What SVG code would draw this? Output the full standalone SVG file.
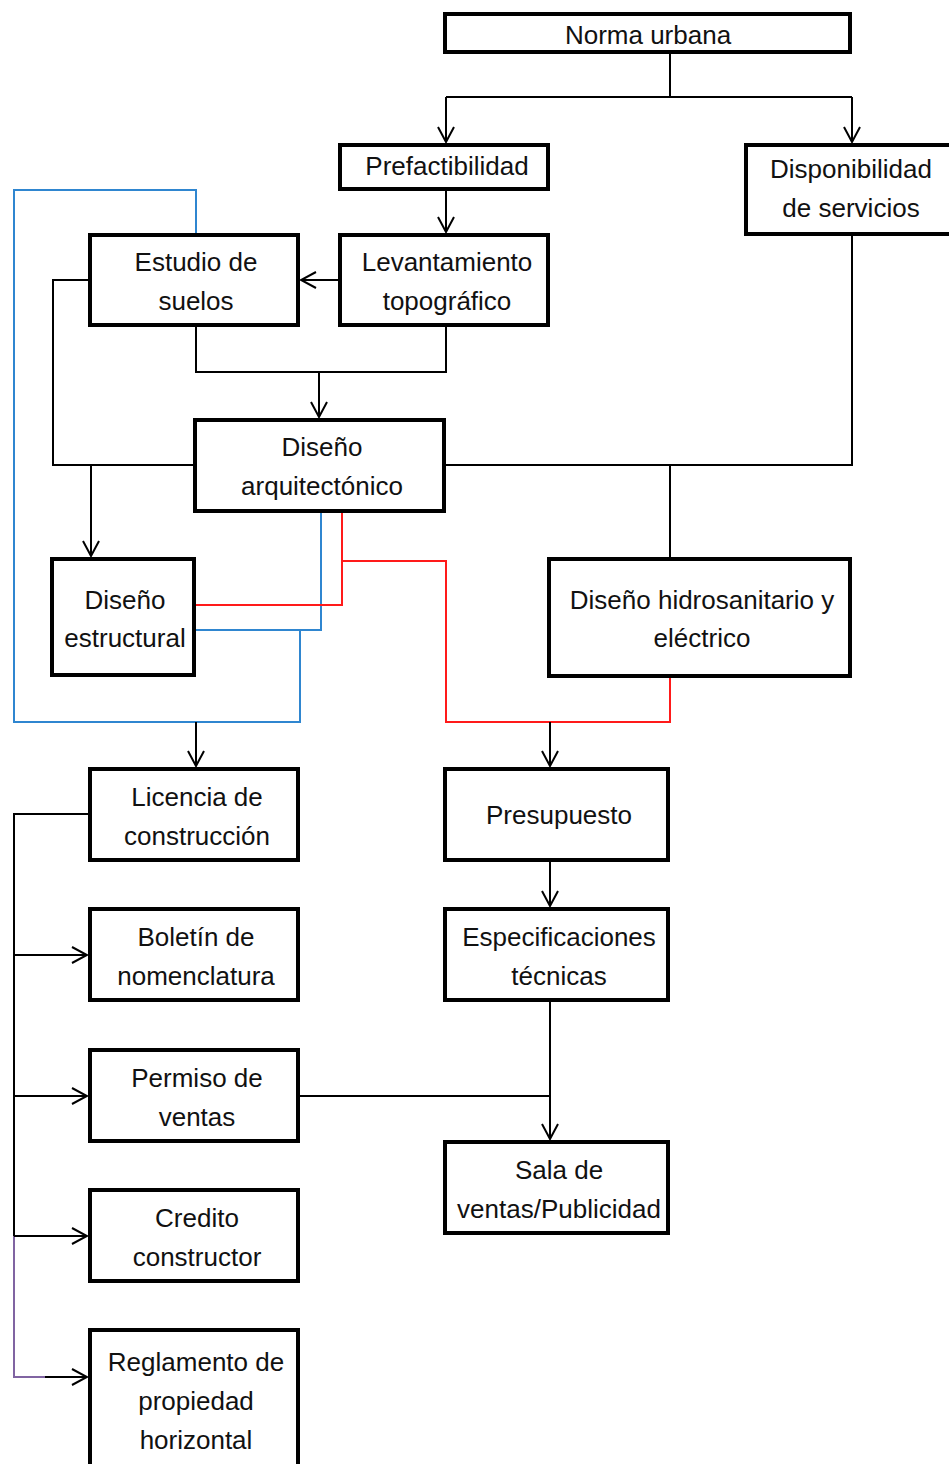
<svg xmlns="http://www.w3.org/2000/svg" width="949" height="1464" viewBox="0 0 949 1464">
<style>
.box{fill:#fff;stroke:#000;stroke-width:4}
.t{font-family:"Liberation Sans",Arial,sans-serif;font-size:26px;fill:#111;text-anchor:middle}
.c{fill:none;stroke:#000;stroke-width:2}
.blue{fill:none;stroke:#2f86d0;stroke-width:2}
.red{fill:none;stroke:#ff1a1a;stroke-width:2}
.purple{fill:none;stroke:#8064a2;stroke-width:2}
</style>
<defs>
<marker id="ah" markerUnits="userSpaceOnUse" markerWidth="18" markerHeight="18" viewBox="0 0 18 18" refX="16" refY="9" orient="auto">
<path d="M1,1 L16,9 L1,17" fill="none" stroke="#000" stroke-width="2"/>
</marker>
</defs>
<rect width="949" height="1464" fill="#fff"/>
<g id="connectors">
<path class="c" d="M670,53 V97"/>
<path class="c" d="M446,97 H852"/>
<path class="c" d="M446,97 V142" marker-end="url(#ah)"/>
<path class="c" d="M852,97 V142" marker-end="url(#ah)"/>
<path class="c" d="M446,190 V232" marker-end="url(#ah)"/>
<path class="c" d="M338,280 H301" marker-end="url(#ah)"/>
<path class="c" d="M196,327 V372 H446 V327"/>
<path class="c" d="M319,372 V417" stroke-width="3.5" marker-end="url(#ah)"/>
<path class="c" d="M88,280 H53 V465 H193"/>
<path class="c" d="M91,465 V556" marker-end="url(#ah)"/>
<path class="c" d="M852,235 V465 H446"/>
<path class="c" d="M670,465 V557"/>
<path class="blue" d="M196,233 V190 H14 V722 H300 V630"/>
<path class="blue" d="M321,513 V630 H196"/>
<path class="red" d="M342,513 V605 H196"/>
<path class="red" d="M342,561 H446 V722 H670 V678"/>
<path class="c" d="M196,722 V766" marker-end="url(#ah)"/>
<path class="c" d="M550,722 V766" marker-end="url(#ah)"/>
<path class="c" d="M550,862 V906" marker-end="url(#ah)"/>
<path class="c" d="M550,1002 V1139" marker-end="url(#ah)"/>
<path class="c" d="M300,1096 H550"/>
<path class="c" d="M88,814 H14 V1236"/>
<path class="purple" d="M14,1236 V1377 H45"/>
<path class="c" d="M14,955 H87" marker-end="url(#ah)"/>
<path class="c" d="M14,1096 H87" marker-end="url(#ah)"/>
<path class="c" d="M14,1236 H87" marker-end="url(#ah)"/>
<path class="c" d="M45,1377 H87" marker-end="url(#ah)"/>
</g>
<g id="norma"><rect class="box" x="445" y="14" width="405" height="38"/><text class="t" x="648" y="44">Norma urbana</text></g>
<g id="prefactibilidad"><rect class="box" x="340" y="145" width="208" height="44"/><text class="t" x="447" y="175">Prefactibilidad</text></g>
<g id="disponibilidad"><rect class="box" x="746" y="145" width="210" height="89"/><text class="t" x="851" y="178">Disponibilidad</text><text class="t" x="851" y="217">de servicios</text></g>
<g id="estudio"><rect class="box" x="90" y="235" width="208" height="90"/><text class="t" x="196" y="271">Estudio de</text><text class="t" x="196" y="310">suelos</text></g>
<g id="levantamiento"><rect class="box" x="340" y="235" width="208" height="90"/><text class="t" x="447" y="271">Levantamiento</text><text class="t" x="447" y="310">topográfico</text></g>
<g id="arquitectonico"><rect class="box" x="195" y="420" width="249" height="91"/><text class="t" x="322" y="456">Diseño</text><text class="t" x="322" y="495">arquitectónico</text></g>
<g id="estructural"><rect class="box" x="52" y="559" width="142" height="116"/><text class="t" x="125" y="609">Diseño</text><text class="t" x="125" y="647">estructural</text></g>
<g id="hidrosanitario"><rect class="box" x="549" y="559" width="301" height="117"/><text class="t" x="702" y="609">Diseño hidrosanitario y</text><text class="t" x="702" y="647">eléctrico</text></g>
<g id="licencia"><rect class="box" x="90" y="769" width="208" height="91"/><text class="t" x="197" y="806">Licencia de</text><text class="t" x="197" y="845">construcción</text></g>
<g id="presupuesto"><rect class="box" x="445" y="769" width="223" height="91"/><text class="t" x="559" y="824">Presupuesto</text></g>
<g id="boletin"><rect class="box" x="90" y="909" width="208" height="91"/><text class="t" x="196" y="946">Boletín de</text><text class="t" x="196" y="985">nomenclatura</text></g>
<g id="especificaciones"><rect class="box" x="445" y="909" width="223" height="91"/><text class="t" x="559" y="946">Especificaciones</text><text class="t" x="559" y="985">técnicas</text></g>
<g id="permiso"><rect class="box" x="90" y="1050" width="208" height="91"/><text class="t" x="197" y="1087">Permiso de</text><text class="t" x="197" y="1126">ventas</text></g>
<g id="sala"><rect class="box" x="445" y="1142" width="223" height="91"/><text class="t" x="559" y="1179">Sala de</text><text class="t" x="559" y="1218">ventas/Publicidad</text></g>
<g id="credito"><rect class="box" x="90" y="1190" width="208" height="91"/><text class="t" x="197" y="1227">Credito</text><text class="t" x="197" y="1266">constructor</text></g>
<g id="reglamento"><rect class="box" x="90" y="1330" width="208" height="140"/><text class="t" x="196" y="1371">Reglamento de</text><text class="t" x="196" y="1410">propiedad</text><text class="t" x="196" y="1449">horizontal</text></g>
</svg>
